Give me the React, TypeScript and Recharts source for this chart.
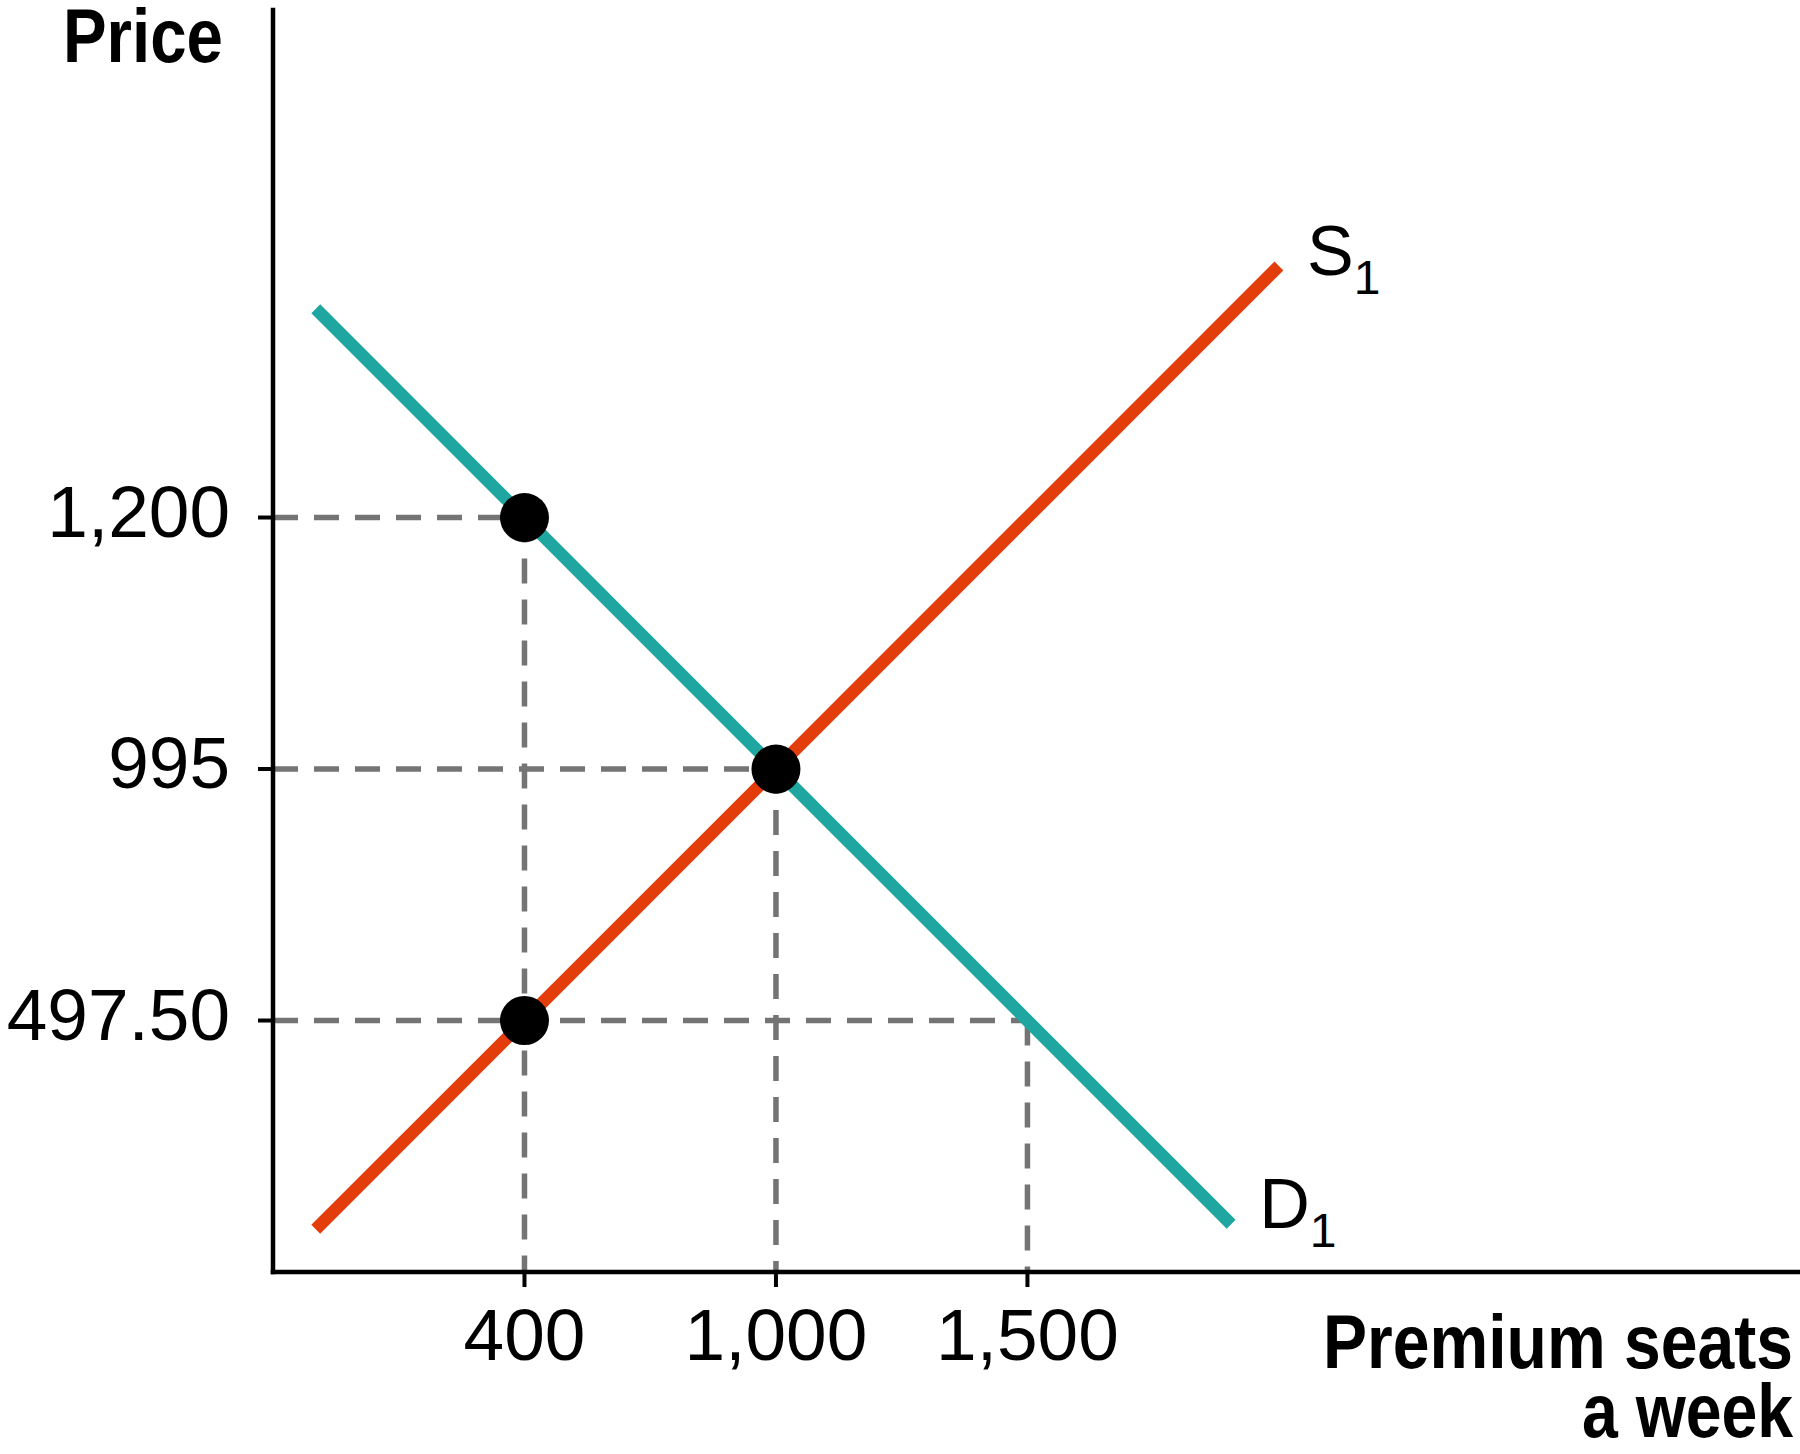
import {
  ComposedChart,
  Line,
  ReferenceDot,
  ReferenceLine,
  Scatter,
  XAxis,
  YAxis,
} from "recharts";

// axis positions are evenly spaced: 1, 2, 3 on each axis
const quantityTicks = [1, 2, 3];
const quantityLabels = ["400", "1,000", "1,500"];
const priceTicks = [1, 2, 3];
const priceLabels = ["497.50", "995", "1,200"];

const supplyLine = [
  { x: 0.17, y: 0.17 },
  { x: 4.0, y: 4.0 },
];
const demandLine = [
  { x: 0.17, y: 3.83 },
  { x: 3.81, y: 0.19 },
];
const marketPoints = [
  { x: 1, y: 3 },
  { x: 2, y: 2 },
  { x: 1, y: 1 },
];
// dashed guides from each point to both axes
const guidePoints = [
  { x: 1, y: 3 },
  { x: 2, y: 2 },
  { x: 3, y: 1 },
];

const colors = {
  supply: "#E43D0C",
  demand: "#1FA6A1",
  guide: "#747474",
  ink: "#000000",
};

const regularFont = "'Liberation Sans', Arial, sans-serif";
const boldFont = "'Liberation Sans', Arial, sans-serif";

function PriceTick(props: any) {
  const { x, y, payload } = props;
  const i = priceTicks.indexOf(payload.value);
  return (
    <text x={x} y={y + 19} textAnchor="end" fontSize={73} fill={colors.ink} fontFamily={regularFont}>
      {priceLabels[i]}
    </text>
  );
}

function QuantityTick(props: any) {
  const { x, y, payload } = props;
  const i = quantityTicks.indexOf(payload.value);
  return (
    <text x={x} y={y + 73} textAnchor="middle" fontSize={73} fill={colors.ink} fontFamily={regularFont}>
      {quantityLabels[i]}
    </text>
  );
}

function PriceTitle(props: any) {
  const vb = props.viewBox;
  return (
    <text
      x={vb.x + vb.width - 210}
      y={vb.y + 52}
      textLength={160}
      lengthAdjust="spacingAndGlyphs"
      fontSize={76}
      fontWeight={700}
      fill={colors.ink}
      fontFamily={boldFont}
    >
      Price
    </text>
  );
}

function QuantityTitle(props: any) {
  const vb = props.viewBox;
  const right = vb.x + vb.width - 7;
  return (
    <g fontSize={76} fontWeight={700} fill={colors.ink} fontFamily={boldFont}>
      <text x={right - 470} y={vb.y + 96} textLength={470} lengthAdjust="spacingAndGlyphs">
        Premium seats
      </text>
      <text x={right - 211} y={vb.y + 165} textLength={211} lengthAdjust="spacingAndGlyphs">
        a week
      </text>
    </g>
  );
}

function CurveName(props: any, name: string, dy: number) {
  const vb = props.viewBox;
  return (
    <text x={vb.x + 28} y={vb.y + dy} fontSize={70} fill={colors.ink} fontFamily={regularFont}>
      <tspan>{name}</tspan>
      <tspan fontSize={48} dy={19}>
        1
      </tspan>
    </text>
  );
}

function Dot(props: any) {
  return <circle cx={props.cx} cy={props.cy} r={24.5} fill={colors.ink} />;
}

export default function App() {
  return (
    <div style={{ position: "absolute", left: 0, top: 0, background: "#fff" }}>
      <ComposedChart
        width={1800}
        height={1454}
        margin={{ top: 10, right: 0, bottom: 0, left: 0 }}
      >
        <XAxis
          type="number"
          dataKey="x"
          domain={[0, 6.072]}
          ticks={quantityTicks}
          allowDataOverflow
          height={182}
          tickSize={15}
          tickMargin={0}
          axisLine={{ stroke: colors.ink, strokeWidth: 4.5, strokeLinecap: "square" }}
          tickLine={{ stroke: colors.ink, strokeWidth: 4 }}
          tick={<QuantityTick />}
          label={{ content: (p: any) => <QuantityTitle {...p} /> }}
        />
        <YAxis
          type="number"
          dataKey="y"
          domain={[0, 5.018]}
          ticks={priceTicks}
          allowDataOverflow
          width={273}
          tickSize={15}
          tickMargin={28}
          axisLine={{ stroke: colors.ink, strokeWidth: 4.5, strokeLinecap: "square" }}
          tickLine={{ stroke: colors.ink, strokeWidth: 4 }}
          tick={<PriceTick />}
          label={{ content: (p: any) => <PriceTitle {...p} /> }}
        />

        {guidePoints.map((g) => (
          <ReferenceLine
            key={`h-${g.x}`}
            segment={[
              { x: 0, y: g.y },
              { x: g.x, y: g.y },
            ]}
            stroke={colors.guide}
            strokeWidth={5.5}
            strokeDasharray="25 16"
          />
        ))}
        {guidePoints.map((g) => (
          <ReferenceLine
            key={`v-${g.x}`}
            segment={[
              { x: g.x, y: g.y },
              { x: g.x, y: 0 },
            ]}
            stroke={colors.guide}
            strokeWidth={5.5}
            strokeDasharray="25 16"
          />
        ))}

        <Line
          data={demandLine}
          dataKey="y"
          type="linear"
          stroke={colors.demand}
          strokeWidth={12.5}
          dot={false}
          activeDot={false}
          isAnimationActive={false}
        />
        <Line
          data={supplyLine}
          dataKey="y"
          type="linear"
          stroke={colors.supply}
          strokeWidth={12.5}
          dot={false}
          activeDot={false}
          isAnimationActive={false}
        />
        <Scatter
          data={marketPoints}
          dataKey="y"
          shape={<Dot />}
          isAnimationActive={false}
        />

        <ReferenceDot
          x={supplyLine[1].x}
          y={supplyLine[1].y}
          r={0}
          stroke="none"
          label={{ content: (p: any) => CurveName(p, "S", 9) }}
        />
        <ReferenceDot
          x={demandLine[1].x}
          y={demandLine[1].y}
          r={0}
          stroke="none"
          label={{ content: (p: any) => CurveName(p, "D", 4) }}
        />
      </ComposedChart>
    </div>
  );
}
